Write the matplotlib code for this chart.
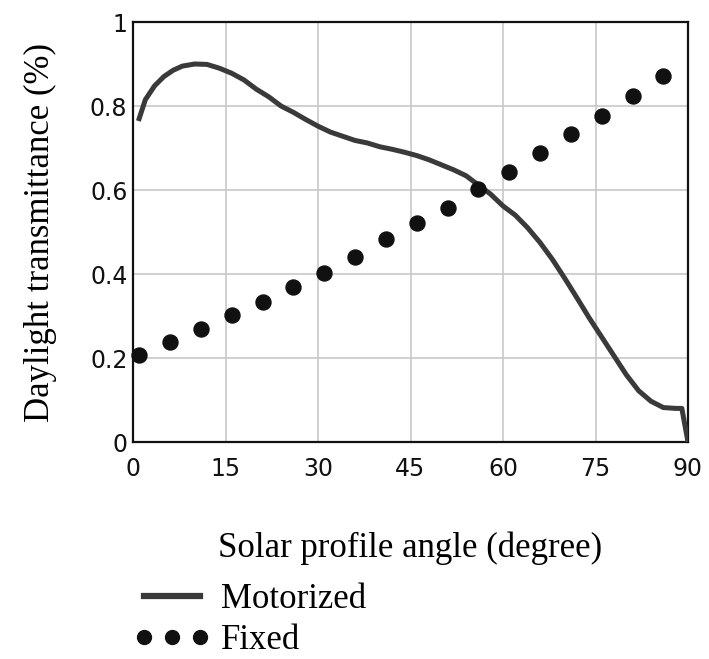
import matplotlib
matplotlib.use("Agg")
import matplotlib.pyplot as plt
from matplotlib.lines import Line2D

# Data
motor_x = [1, 2, 3.5, 5, 6.5, 8, 10, 12, 14, 16, 18, 20, 22, 24, 26, 28, 30, 32, 34, 36,
           38, 40, 42, 44, 46, 48, 50, 52, 54, 56, 58, 60, 62, 64, 66, 68, 70, 72, 74, 76,
           78, 80, 82, 84, 86, 88, 89, 90]
motor_y = [0.770, 0.815, 0.848, 0.870, 0.885, 0.895, 0.900, 0.899, 0.890, 0.878, 0.862,
           0.840, 0.822, 0.800, 0.785, 0.768, 0.752, 0.738, 0.728, 0.718, 0.712, 0.703,
           0.697, 0.690, 0.682, 0.672, 0.660, 0.648, 0.634, 0.612, 0.590, 0.562, 0.540,
           0.510, 0.475, 0.435, 0.390, 0.343, 0.295, 0.250, 0.205, 0.160, 0.122, 0.097,
           0.082, 0.080, 0.080, 0.0]
fixed_x = [1, 6, 11, 16, 21, 26, 31, 36, 41, 46, 51, 56, 61, 66, 71, 76, 81, 86]
fixed_y = [0.207, 0.238, 0.269, 0.302, 0.333, 0.369, 0.402, 0.440, 0.483, 0.521, 0.557,
           0.602, 0.643, 0.688, 0.733, 0.776, 0.824, 0.871]
xticks = [0, 15, 30, 45, 60, 75, 90]
yticks = [0, 0.2, 0.4, 0.6, 0.8, 1]
ytick_labels = ["0", "0.2", "0.4", "0.6", "0.8", "1"]

W, H = 709, 659
fig = plt.figure(figsize=(W / 100, H / 100), dpi=100)
ax = fig.add_axes([133 / W, 1 - 442 / H, (688 - 133) / W, (442 - 22) / H])

line_color = "#3a3a3a"
dot_color = "#111111"

ax.plot(motor_x, motor_y, color=line_color, lw=3.6, solid_joinstyle="round", zorder=3)
ax.plot(fixed_x, fixed_y, linestyle="none", marker="o", markersize=10.8,
        color=dot_color, clip_on=False, zorder=4)

ax.set_xlim(0, 90)
ax.set_ylim(0, 1)
ax.set_xticks(xticks)
ax.set_xticklabels([str(v) for v in xticks])
ax.set_yticks(yticks)
ax.set_yticklabels(ytick_labels)
ax.grid(True, color="#c8c8c8", lw=1.2)
ax.set_axisbelow(True)
ax.tick_params(length=0, labelsize=17, labelcolor="#111111")
ax.tick_params(axis="x", pad=11)
ax.tick_params(axis="y", pad=4)
for lab in ax.get_xticklabels() + ax.get_yticklabels():
    lab.set_family("DejaVu Sans")
for s in ax.spines.values():
    s.set_linewidth(1.6)
    s.set_color("#111111")

serif = "Liberation Serif"
ax.set_xlabel("Solar profile angle (degree)", fontsize=25, family=serif, labelpad=36)
ax.set_ylabel("Daylight transmittance (%)", fontsize=25, family=serif, labelpad=24)

handles = [Line2D([], [], color=line_color, lw=4.5),
           Line2D([], [], linestyle="none", marker="o", markersize=10, color=dot_color)]
fig.legend(handles, ["Motorized", "Fixed"], loc="center left",
           bbox_to_anchor=(134 / W, 1 - 620 / H), frameon=False, numpoints=3,
           handlelength=2.2, handletextpad=0.3, labelspacing=0.22, borderpad=0,
           borderaxespad=0, prop={"family": serif, "size": 25})

fig.savefig("out.png", dpi=100)
